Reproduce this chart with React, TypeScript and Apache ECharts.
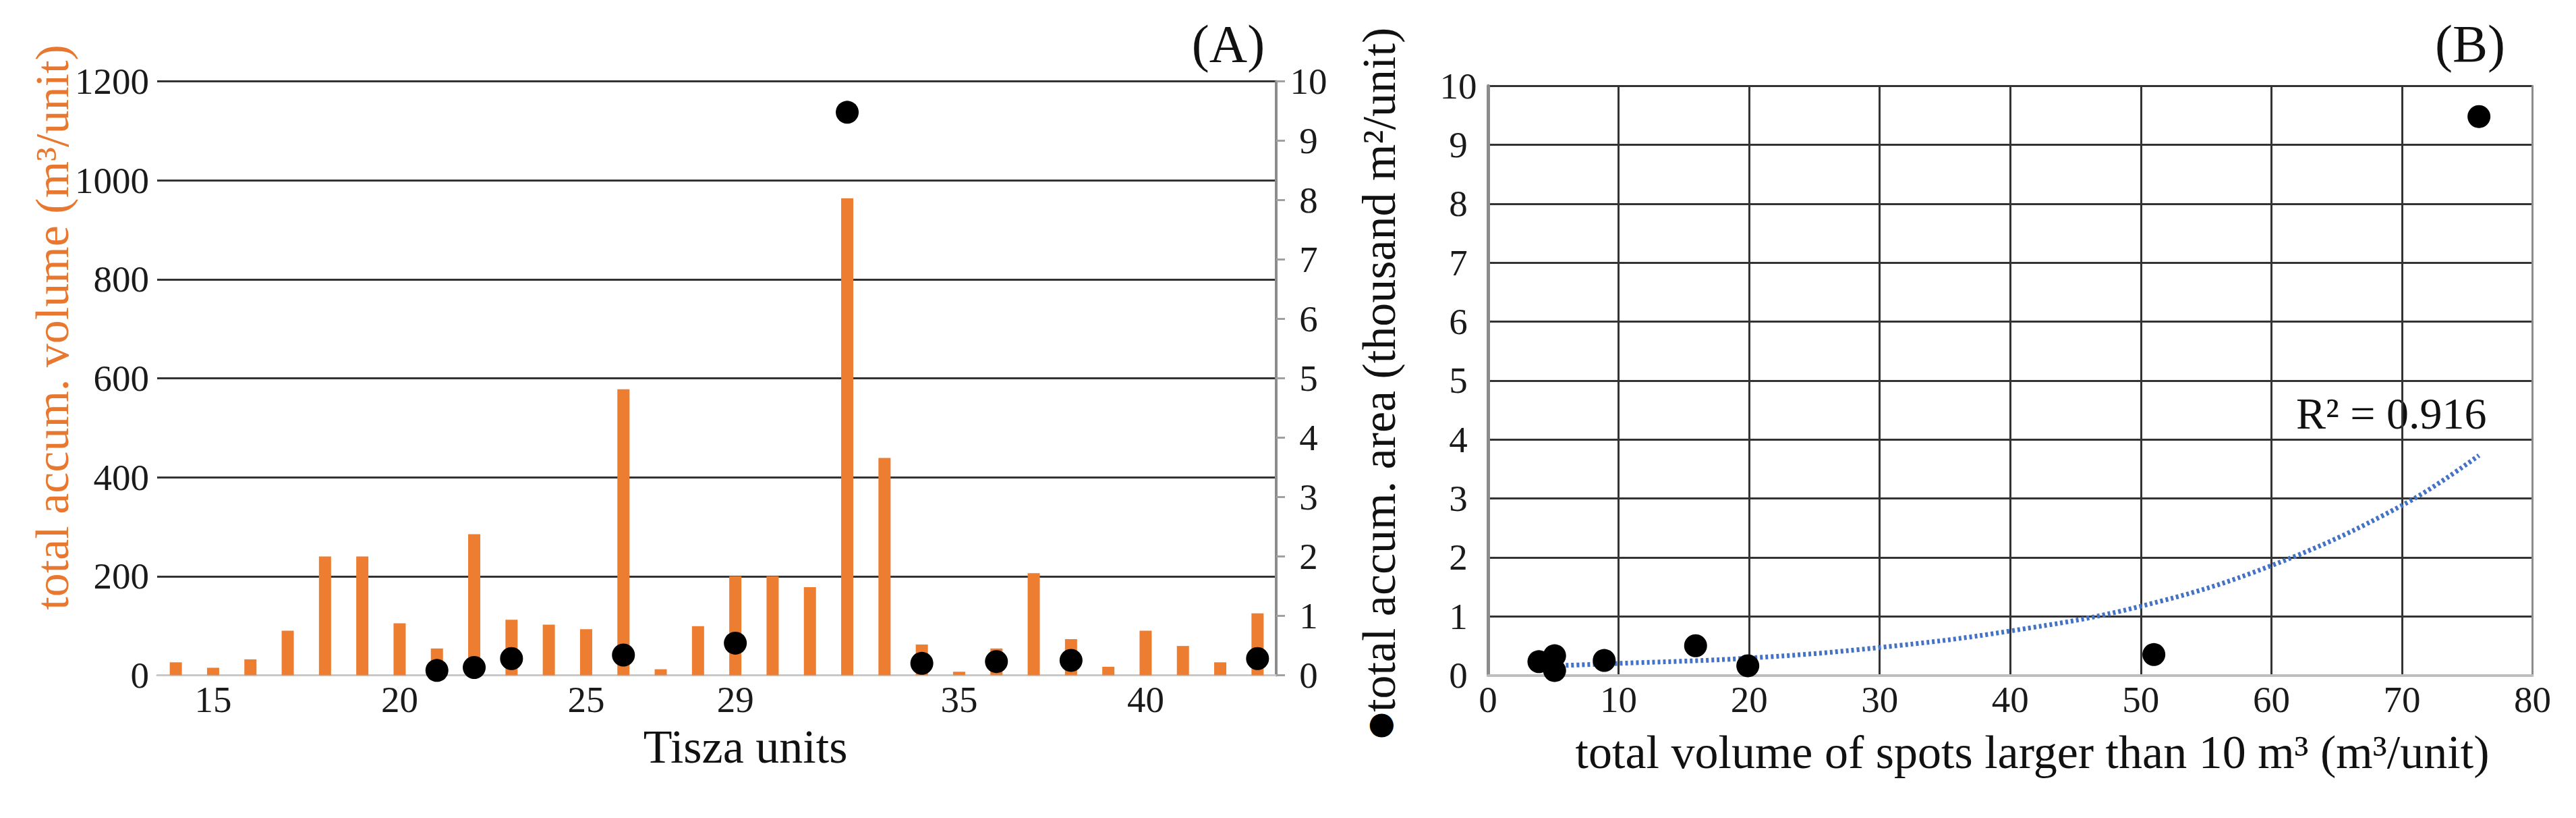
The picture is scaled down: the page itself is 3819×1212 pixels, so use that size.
import React, { useEffect, useRef } from "react";
import * as echarts from "echarts";

// ---- Panel A data ----
const units = ["14","15","16","17","18","19","20","21","22","23","24","25","26","27","28","29","30","31","32","33","34","35","36","37","38","39","40","41","42","43"];
const shownUnitLabels = ["15", "20", "25", "29", "35", "40"];
const volume = [26, 15, 32, 90, 240, 240, 105, 54, 285, 112, 102, 93, 578, 12, 99, 200, 200, 178, 964, 439, 62, 7, 54, 206, 73, 17, 90, 59, 26, 125];
const dotUnits = ["21", "22", "23", "26", "29", "32", "34", "36", "38", "43"];
const dotArea = [0.08, 0.13, 0.28, 0.34, 0.54, 9.48, 0.2, 0.23, 0.25, 0.28];

// ---- Panel B data ----
const spotVolume = [3.9, 5.1, 5.1, 8.9, 15.9, 19.9, 51, 75.9];
const spotArea = [0.23, 0.33, 0.08, 0.25, 0.5, 0.16, 0.35, 9.48];
const trendX = [3.9, 10, 20, 30, 40, 50, 60, 70, 75.9];
const trendY = [0.15, 0.2, 0.29, 0.47, 0.75, 1.17, 1.86, 2.88, 3.73];

const SERIF = "'Liberation Serif', 'Times New Roman', serif";
const LABEL = { fontSize: 55, color: "#1a1a1a", fontFamily: SERIF, formatter: (v: any) => String(v) };

export default function App() {
  const ref = useRef<HTMLDivElement>(null);
  useEffect(() => {
    if (!ref.current) return;
    const chart = echarts.init(ref.current, null, { renderer: "svg" });
    chart.setOption({
      animation: false,
      backgroundColor: "#fff",
      grid: [
        { left: 233, top: 120.6, width: 1659, height: 879.8, containLabel: false, outerBoundsMode: "none" },
        { left: 2206, top: 127.3, width: 1548.5, height: 873.1, containLabel: false, outerBoundsMode: "none" },
      ],
      xAxis: [
        {
          type: "category",
          gridIndex: 0,
          data: units,
          boundaryGap: true,
          axisLine: { onZero: false, lineStyle: { color: "#c8c8c8", width: 3 } },
          axisTick: { show: false },
          axisLabel: {
            ...LABEL,
            margin: 9,
            interval: (_i: number, v: string) => shownUnitLabels.includes(v),
          },
          splitLine: { show: false },
        },
        {
          type: "value",
          gridIndex: 1,
          min: 0,
          max: 80,
          interval: 10,
          axisLine: { onZero: false, lineStyle: { color: "#bdbdbd", width: 4 } },
          axisTick: { show: false },
          axisLabel: { ...LABEL, margin: 9 },
          splitLine: { show: true, showMinLine: false, showMaxLine: false, lineStyle: { color: "#333", width: 3 } },
        },
      ],
      yAxis: [
        {
          type: "value",
          gridIndex: 0,
          position: "left",
          min: 0,
          max: 1200,
          interval: 200,
          axisLine: { show: false },
          axisTick: { show: false },
          axisLabel: { ...LABEL, margin: 12 },
          splitLine: { show: true, showMinLine: false, lineStyle: { color: "#333", width: 3 } },
        },
        {
          type: "value",
          gridIndex: 0,
          position: "right",
          min: 0,
          max: 10,
          interval: 1,
          axisLine: { show: true, onZero: false, lineStyle: { color: "#8c8c8c", width: 4 } },
          axisTick: { show: true, inside: false, length: 13, lineStyle: { color: "#a0a0a0", width: 3 } },
          axisLabel: { ...LABEL, align: "center", margin: 48 },
          splitLine: { show: false },
        },
        {
          type: "value",
          gridIndex: 1,
          position: "left",
          min: 0,
          max: 10,
          interval: 1,
          axisLine: { show: true, onZero: false, lineStyle: { color: "#8c8c8c", width: 5 } },
          axisTick: { show: false },
          axisLabel: { ...LABEL, align: "center", margin: 44 },
          splitLine: { show: true, showMinLine: false, lineStyle: { color: "#333", width: 3 } },
        },
        {
          type: "value",
          gridIndex: 1,
          position: "right",
          min: 0,
          max: 10,
          interval: 1,
          axisLine: { show: true, onZero: false, lineStyle: { color: "#8c8c8c", width: 3 } },
          axisTick: { show: false },
          axisLabel: { show: false },
          splitLine: { show: false },
        },
      ],
      series: [
        {
          name: "total accum. volume",
          type: "bar",
          xAxisIndex: 0,
          yAxisIndex: 0,
          data: volume,
          barWidth: 18,
          itemStyle: { color: "#ED7D31" },
          z: 2,
        },
        {
          name: "total accum. area",
          type: "scatter",
          xAxisIndex: 0,
          yAxisIndex: 1,
          data: dotUnits.map((u, i) => [u, dotArea[i]]),
          symbolSize: 34,
          itemStyle: { color: "#000", opacity: 1 },
          z: 3,
        },
        {
          name: "trend",
          type: "line",
          xAxisIndex: 1,
          yAxisIndex: 2,
          data: trendX.map((x, i) => [x, trendY[i]]),
          smooth: 0.4,
          symbol: "none",
          lineStyle: { color: "#4472C4", width: 7, type: [4, 4] },
          z: 2,
        },
        {
          name: "spots",
          type: "scatter",
          xAxisIndex: 1,
          yAxisIndex: 2,
          data: spotVolume.map((x, i) => [x, spotArea[i]]),
          symbolSize: 34,
          itemStyle: { color: "#000", opacity: 1 },
          z: 3,
        },
      ],
      graphic: [
        {
          type: "text",
          x: 1821,
          y: 64,
          style: { text: "(A)", fontSize: 78, fontFamily: SERIF, fill: "#111", align: "center", verticalAlign: "middle" },
        },
        {
          type: "text",
          x: 3662,
          y: 64,
          style: { text: "(B)", fontSize: 78, fontFamily: SERIF, fill: "#111", align: "center", verticalAlign: "middle" },
        },
        {
          type: "text",
          x: 77,
          y: 485,
          rotation: Math.PI / 2,
          style: { text: "total accum. volume (m³/unit)", fontSize: 70, fontFamily: SERIF, fill: "#E8782F", align: "center", verticalAlign: "middle" },
        },
        {
          type: "text",
          x: 2044,
          y: 568,
          rotation: Math.PI / 2,
          style: {
            text: "{d|●}{t|total accum. area (thousand m²/unit)}",
            align: "center",
            verticalAlign: "middle",
            rich: {
              d: { fontSize: 46, fontFamily: "'DejaVu Sans', sans-serif", fill: "#000" },
              t: { fontSize: 70, fontFamily: SERIF, fill: "#111" },
            },
          },
        },
        {
          type: "text",
          x: 1105,
          y: 1106,
          style: { text: "Tisza units", fontSize: 70, fontFamily: SERIF, fill: "#111", align: "center", verticalAlign: "middle" },
        },
        {
          type: "text",
          x: 3013,
          y: 1114,
          style: { text: "total volume of spots larger than 10 m³ (m³/unit)", fontSize: 70, fontFamily: SERIF, fill: "#111", align: "center", verticalAlign: "middle" },
        },
        {
          type: "text",
          x: 3404,
          y: 612,
          style: { text: "R² = 0.916", fontSize: 66, fontFamily: SERIF, fill: "#111", align: "left", verticalAlign: "middle" },
        },
      ],
    });
    return () => chart.dispose();
  }, []);
  return (
    <div
      ref={ref}
      style={{ position: "absolute", left: 0, top: 0, width: 3819, height: 1212, background: "#fff" }}
    />
  );
}
